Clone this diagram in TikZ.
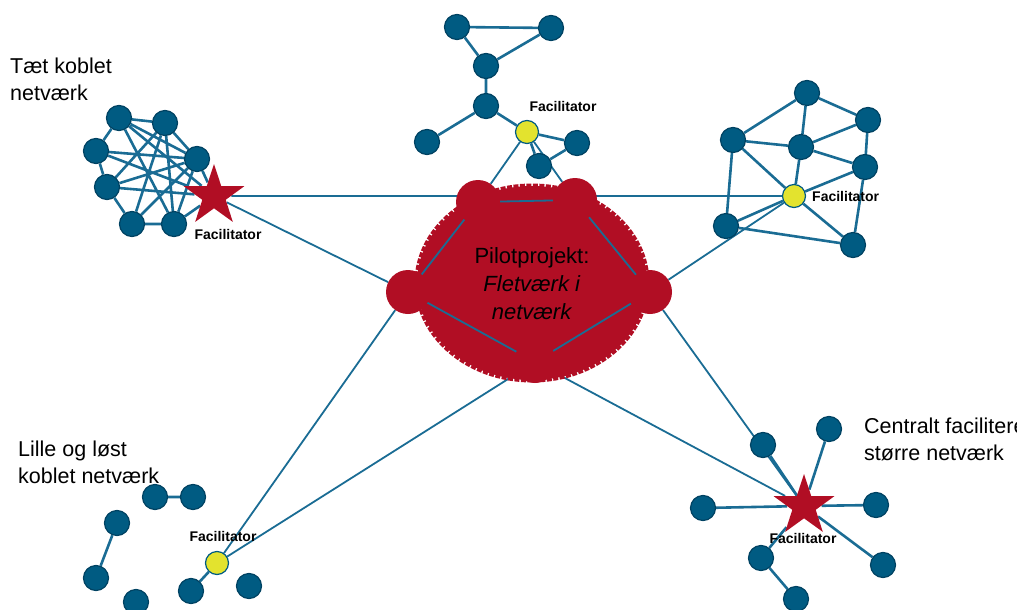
\documentclass[tikz,border=0pt]{standalone}
\usepackage{fontspec}
\setmainfont{Liberation Sans}
\usetikzlibrary{shapes.geometric,backgrounds}
\definecolor{netblue}{RGB}{0,91,130}
\definecolor{netrim}{RGB}{0,66,98}
\definecolor{tieblue}{RGB}{26,108,148}
\definecolor{pilotred}{RGB}{177,14,36}
\definecolor{facyellow}{RGB}{227,227,46}
\begin{document}
\begin{tikzpicture}[x=1pt, y=-1pt,
    member/.style={circle, fill=netblue, draw=netrim, line width=1.2pt, inner sep=0pt, minimum size=25pt},
    facil/.style={circle, fill=facyellow, draw=netblue, line width=1.2pt, inner sep=0pt, minimum size=23pt},
    hub/.style={star, star points=5, star point ratio=2.6, fill=pilotred, inner sep=0pt, minimum size=64pt},
    lobe/.style={circle, fill=pilotred, inner sep=0pt, minimum size=44pt},
    tie/.style={draw=tieblue, line width=2.6pt},
    link/.style={draw=tieblue, line width=1.8pt},
    caption/.style={font=\fontsize{21.5}{27}\selectfont, align=left, anchor=north west, inner sep=0pt},
    role/.style={font=\bfseries\fontsize{14}{16}\selectfont, inner sep=0pt}]
    \useasboundingbox (0,0) rectangle (1017,610);

    \node[caption] (tight) at (10,58) {Tæt koblet\\netværk};
    \node[caption] (loose) at (18,441) {Lille og løst\\koblet netværk};
    \node[caption] (central) at (864,418) {Centralt faciliteret\\større netværk};

    \node[member] (L1) at (119,118) {};
    \node[member] (L2) at (165,123) {};
    \node[member] (L3) at (96,151) {};
    \node[member] (L4) at (197,159) {};
    \node[member] (L5) at (107,187) {};
    \node[member] (L6) at (132,224) {};
    \node[member] (L7) at (174,224) {};
    \node[hub] (Lhub) at (214,196) {};
    \node[role] (LhubLabel) at (228,234) {Facilitator};

    \node[member] (T1) at (457,27) {};
    \node[member] (T2) at (551,28) {};
    \node[member] (T3) at (486,66) {};
    \node[member] (T4) at (486,106) {};
    \node[member] (T5) at (427,142) {};
    \node[member] (T6) at (577,143) {};
    \node[member] (T7) at (539,166) {};
    \node[facil] (Ftop) at (527,132) {};
    \node[role] (FtopLabel) at (563,106) {Facilitator};

    \node[member] (R1) at (807,93) {};
    \node[member] (R2) at (733,140) {};
    \node[member] (R3) at (868,120) {};
    \node[member] (R4) at (801,147) {};
    \node[member] (R5) at (865,167) {};
    \node[member] (R6) at (726,226) {};
    \node[member] (R7) at (853,245) {};
    \node[facil] (Fright) at (794,196) {};
    \node[role, anchor=west] (FrightLabel) at (812,196) {Facilitator};

    \node[member] (B1) at (155,497) {};
    \node[member] (B2) at (193,497) {};
    \node[member] (B3) at (117,523) {};
    \node[member] (B4) at (96,578) {};
    \node[member] (B5) at (136,602) {};
    \node[member] (B6) at (191,591) {};
    \node[member] (B7) at (249,586) {};
    \node[facil] (Fbl) at (217,563) {};
    \node[role] (FblLabel) at (223,536) {Facilitator};

    \node[member] (S1) at (763,445) {};
    \node[member] (S2) at (829,429) {};
    \node[member] (S3) at (703,508) {};
    \node[member] (S4) at (876,505) {};
    \node[member] (S5) at (761,558) {};
    \node[member] (S6) at (883,565) {};
    \node[member] (S7) at (796,599) {};
    \node[hub] (Shub) at (804,506) {};
    \node[role] (ShubLabel) at (803,538) {Facilitator};

    \node[lobe] (TL) at (478,202) {};
    \node[lobe] (TR) at (575,200) {};
    \node[lobe] (LL) at (408,292) {};
    \node[lobe] (RR) at (650,292) {};
    \node[lobe, minimum size=42pt] (BB) at (535,362) {};
    \node[font=\fontsize{22}{28}\selectfont, align=center, anchor=north, inner sep=0pt] (pilot)
      at (532,247) {Pilotprojekt:\\\textit{Fletværk i}\\\textit{netværk}};

    \begin{scope}[on background layer]
    \draw[link] (Lhub) -- (Fright) (Lhub) -- (LL) (LL) -- (Fbl) (BB) -- (Fbl)
      (BB) -- (Shub) (RR) -- (Shub) (RR) -- (Fright) (Ftop) -- (TL) (Ftop) -- (TR);
    \fill[pilotred] (532,283) ellipse [x radius=115pt, y radius=97pt];
    \draw[pilotred, line width=3pt, dash pattern=on 5pt off 1.5pt]
      (532,283) ellipse [x radius=116pt, y radius=98pt];
    \draw[link] (TL) -- (TR) (TL) -- (LL) (LL) -- (BB) (BB) -- (RR) (RR) -- (TR);

    \draw[tie] (L1) -- (L2) (L1) -- (L3) (L1) -- (L4) (L1) -- (L7) (L1) -- (Lhub)
      (L2) -- (L4) (L2) -- (L5) (L2) -- (L6) (L2) -- (L7) (L3) -- (L5) (L3) -- (L4)
      (L3) -- (Lhub) (L5) -- (L6) (L5) -- (L4) (L5) -- (Lhub) (L6) -- (L7) (L6) -- (L4)
      (L7) -- (L4) (L7) -- (Lhub) (L4) -- (Lhub);
    \draw[tie] (T1) -- (T2) (T1) -- (T3) (T3) -- (T2) (T3) -- (T4) (T4) -- (T5)
      (T4) -- (Ftop) (Ftop) -- (T6) (Ftop) -- (T7) (T7) -- (T6);
    \draw[tie] (R1) -- (R2) (R1) -- (R4) (R1) -- (R3) (R2) -- (R4) (R2) -- (Fright)
      (R2) -- (R6) (R4) -- (R3) (R4) -- (R5) (R4) -- (Fright) (R3) -- (R5)
      (R5) -- (Fright) (R5) -- (R7) (Fright) -- (R7) (Fright) -- (R6) (R6) -- (R7);
    \draw[tie] (B1) -- (B2) (B3) -- (B4) (Fbl) -- (B6);
    \draw[tie] (Shub) -- (S1) (Shub) -- (S2) (Shub) -- (S3) (Shub) -- (S4)
      (Shub) -- (S5) (Shub) -- (S6) (S5) -- (S7);
    \end{scope}
\end{tikzpicture}
\end{document}
